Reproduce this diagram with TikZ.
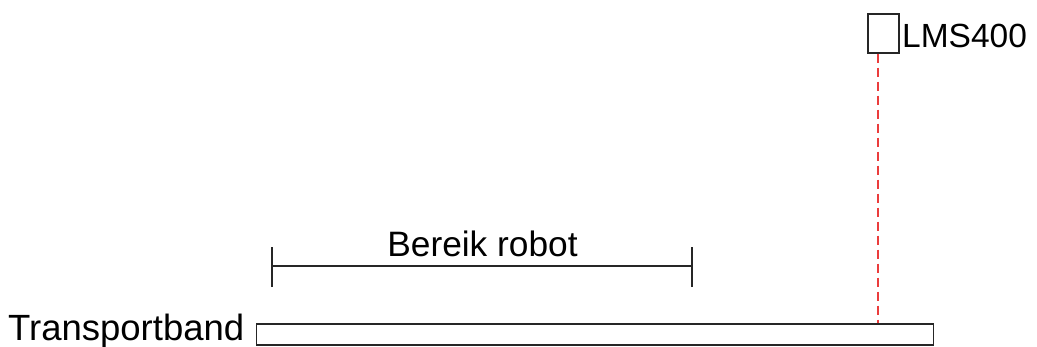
\documentclass[tikz,border=0pt]{standalone}
\usepackage{fontspec}
\setmainfont{Liberation Sans}
\definecolor{beamred}{RGB}{235,60,60}
\begin{document}
\begin{tikzpicture}[x=1pt,y=-1pt,
  lbl/.style={inner sep=0pt},
  box/.style={draw=black!85,line width=1.6pt,inner sep=0pt},
  dim/.style={draw=black!85,line width=1.3pt},
  beam/.style={draw=beamred,line width=1.6pt,dash pattern=on 9pt off 5pt}]
\useasboundingbox (0,0) rectangle (1037,346);
% conveyor belt
\node[box,minimum width=677pt,minimum height=21pt,anchor=north west] (band) at (255.5,323) {};
\node[lbl,anchor=base west,font=\fontsize{36.5}{40}\selectfont] (bandlbl) at (8,340) {Transportband};
% sensor with its scan line down to the belt
\node[box,minimum width=31pt,minimum height=39pt,anchor=north west] (lms) at (867,13) {};
\node[lbl,anchor=base west,font=\fontsize{33.5}{38}\selectfont] (lmslbl) at (902,47) {LMS400};
\coordinate (scantop) at ([xshift=-5.5pt]lms.south);
\draw[beam] (scantop) -- (scantop |- band.north);
% robot reach
\coordinate (ra) at (272,266);
\coordinate (rb) at (692,266);
\draw[dim] (ra) -- (rb);
\draw[dim] ([yshift=-21pt]ra) -- ([yshift=19pt]ra);
\draw[dim] ([yshift=-21pt]rb) -- ([yshift=19pt]rb);
\node[lbl,anchor=base,font=\fontsize{35.3}{40}\selectfont] (reach) at (482.5,256) {Bereik robot};
\end{tikzpicture}
\end{document}
